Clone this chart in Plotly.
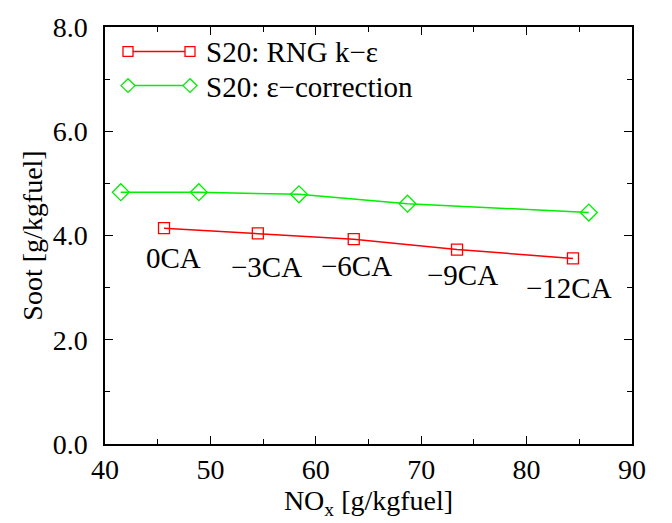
import plotly.graph_objects as go

nox_rng = [45.6, 54.5, 63.6, 73.4, 84.4]
soot_rng = [4.14, 4.04, 3.93, 3.73, 3.56]
nox_eps = [41.5, 48.9, 58.4, 68.7, 85.9]
soot_eps = [4.83, 4.83, 4.79, 4.61, 4.44]
label_text = ["0CA", "\u22123CA", "\u22126CA", "\u22129CA", "\u221212CA"]
label_x = [46.5, 55.3, 63.9, 73.9, 84.0]
label_y = [3.57, 3.40, 3.42, 3.25, 2.99]

RED = "#ff0000"
GREEN = "#00ee00"
FONT = "Liberation Serif"
FS = 29

fig = go.Figure()
fig.add_trace(go.Scatter(x=nox_rng, y=soot_rng, mode="lines+markers", name="S20: RNG k\u2212\u03b5",
                         line=dict(color=RED, width=1.5),
                         marker=dict(symbol="square-open", size=11, color=RED, line=dict(width=1.3))))
fig.add_trace(go.Scatter(x=nox_eps, y=soot_eps, mode="lines+markers", name="S20: \u03b5\u2212correction",
                         line=dict(color=GREEN, width=1.5),
                         marker=dict(symbol="diamond-open", size=13, color=GREEN, line=dict(width=1.3))))

for t, x, y in zip(label_text, label_x, label_y):
    fig.add_annotation(x=x, y=y, text=t, showarrow=False, font=dict(family=FONT, size=FS, color="black"))

# Custom legend (line with markers at both ends)
W, H = 672, 523
ml, mr, mt, mb = 105, 40, 17, 79
pw, ph = W - ml - mr, H - mt - mb

def px(x):
    return (x - ml) / pw

def py(y):
    return 1 - (y - mt) / ph

legend_items = [
    ("S20: RNG k\u2212\u03b5", RED, "square", 42),
    ("S20: \u03b5\u2212correction", GREEN, "diamond", 77),
]
for name, col, sym, yy in legend_items:
    x0, x1 = 128, 190
    fig.add_shape(type="line", xref="paper", yref="paper", x0=px(x0), x1=px(x1), y0=py(yy), y1=py(yy),
                  line=dict(color=col, width=1.5))
    for xc in (x0, x1):
        if sym == "square":
            fig.add_shape(type="rect", xref="paper", yref="paper", x0=px(xc - 5), x1=px(xc + 5),
                          y0=py(yy + 5), y1=py(yy - 5), line=dict(color=col, width=1.3), fillcolor="white")
        else:
            d = 7
            path = "M {} {} L {} {} L {} {} L {} {} Z".format(
                px(xc - d), py(yy), px(xc), py(yy - d), px(xc + d), py(yy), px(xc), py(yy + d))
            fig.add_shape(type="path", xref="paper", yref="paper", path=path,
                          line=dict(color=col, width=1.3), fillcolor="white")
    fig.add_annotation(xref="paper", yref="paper", x=px(204), y=py(yy + 1), text=name, showarrow=False,
                       xanchor="left", yanchor="middle", font=dict(family=FONT, size=FS, color="black"))

axis_common = dict(showline=True, linecolor="black", linewidth=1.5, mirror="allticks", ticks="inside",
                   ticklen=8, tickwidth=1.4, tickcolor="black", showgrid=False, zeroline=False,
                   tickfont=dict(family=FONT, size=FS - 1, color="black"))

fig.update_xaxes(range=[40, 90], tickvals=[40, 50, 60, 70, 80, 90],
                 minor=dict(ticks="inside", ticklen=5, tickwidth=1.2, dtick=5, tick0=40, tickcolor="black"),
                 title=dict(text="NO<sub>x</sub> [g/kgfuel]", font=dict(family=FONT, size=FS - 1, color="black"), standoff=0),
                 ticklabelstandoff=0,
                 **axis_common)
fig.update_yaxes(range=[0, 8], tickvals=[0, 2, 4, 6, 8], tickformat=".1f",
                 minor=dict(ticks="inside", ticklen=5, tickwidth=1.2, dtick=1, tick0=0, tickcolor="black"),
                 title=dict(text="Soot [g/kgfuel]", font=dict(family=FONT, size=FS - 1, color="black"), standoff=2),
                 ticklabelstandoff=10,
                 **axis_common)

fig.update_layout(width=W, height=H, margin=dict(l=ml, r=mr, t=mt, b=mb), showlegend=False,
                  plot_bgcolor="white", paper_bgcolor="white", font=dict(family=FONT))

fig.write_html("out.html")
